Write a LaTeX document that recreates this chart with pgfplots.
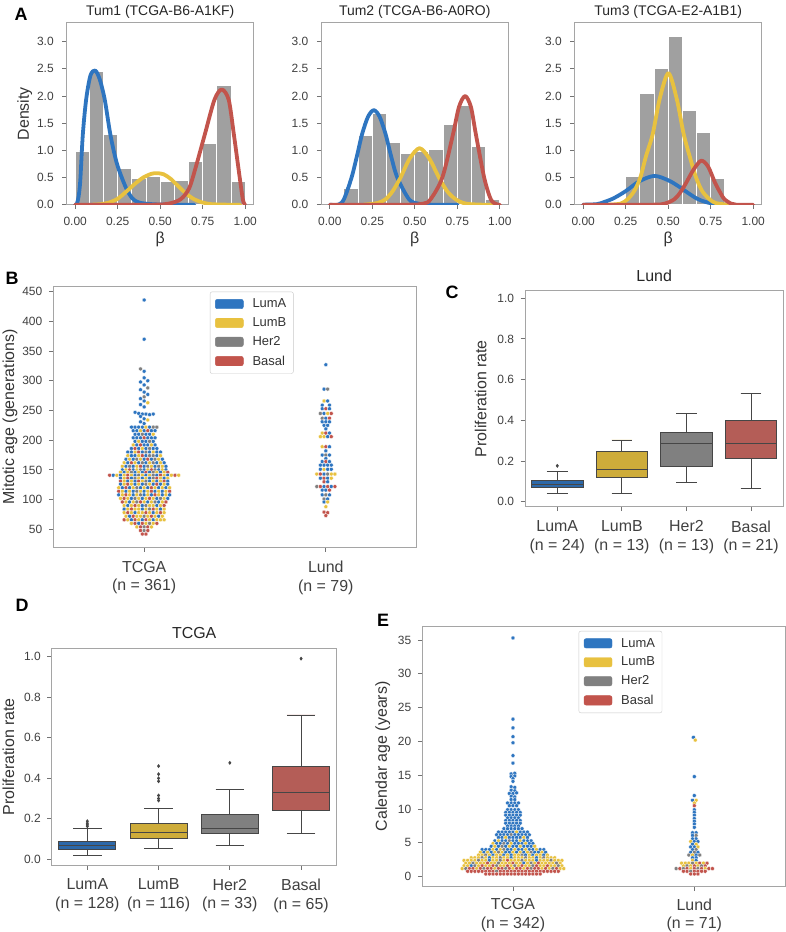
\documentclass[border=0pt]{standalone}
\usepackage{fontspec}
\setmainfont{Liberation Sans}
\usepackage{pgfplots}
\pgfplotsset{compat=1.18}
\usepgfplotslibrary{statistics}
\definecolor{cA}{RGB}{46,117,192}
\definecolor{cB}{RGB}{232,193,63}
\definecolor{cH}{RGB}{128,128,128}
\definecolor{cR}{RGB}{194,84,76}
\definecolor{bA}{RGB}{45,104,168}
\definecolor{bB}{RGB}{206,172,58}
\definecolor{bH}{RGB}{128,128,128}
\definecolor{bR}{RGB}{180,93,87}
\definecolor{histgray}{RGB}{160,160,160}
\definecolor{frame}{RGB}{165,165,165}
\definecolor{boxline}{RGB}{70,70,70}
\pgfplotsset{
  base/.style={
    scale only axis, anchor=south west,
    axis line style={draw=frame, line width=0.8bp},
    tick pos=left, tick align=outside, major tick length=4.5bp,
    tick style={draw=frame!70!black, line width=0.8bp},
    tick label style={font=\fontsize{12}{13}\selectfont, text=black!75},
    yticklabel style={xshift=-3bp},
    label style={font=\fontsize{16}{18}\selectfont, text=black!80},
    title style={font=\fontsize{16}{18}\selectfont, text=black!85},
    /pgf/number format/assume math mode=true,
  },
  cat/.style={xticklabel style={align=center, font=\fontsize{16}{18.5}\selectfont, yshift=#1}},
  cat/.default=-6bp,
  Ahist/.style={base, width=187bp, height=182bp, xmin=-0.05, xmax=1.05, ymin=0, ymax=3.35,
    xtick={0,0.25,0.5,0.75,1}, xticklabels={0.00,0.25,0.50,0.75,1.00},
    ytick={0,0.5,1,1.5,2,2.5,3}, yticklabels={0.0,0.5,1.0,1.5,2.0,2.5,3.0},
    xticklabel style={yshift=-4bp}, yticklabel style={xshift=-2bp},
    xlabel={β}, ylabel shift=-2bp,
    title style={font=\fontsize{14}{16}\selectfont, anchor=base, yshift=1.5bp}},
  curve/.style={line width=3.8bp, smooth, line cap=round, line join=round},
  swarm/.style={scatter, only marks, scatter src=explicit symbolic, mark size=2bp,
    scatter/classes={a={mark=*, fill=cA, draw=white}, b={mark=*, fill=cB, draw=white},
      h={mark=*, fill=cH, draw=white}, r={mark=*, fill=cR, draw=white}},
    mark options={line width=0.3bp}},
  bx/.style={fill=#1, draw=boxline, line width=0.9bp, mark=diamond*, mark size=1.3bp,
    mark options={fill=boxline, draw=boxline}},
  legpatch/.style={legend image code/.code={\fill[#1] (0bp,-4.7bp) rectangle (28bp,4.7bp); \path (35bp,0bp);}},
  swarmlegend/.style={legend style={draw=frame!60, rounded corners=2bp, fill=white,
    font=\fontsize{13}{15}\selectfont, text=black!80, row sep=4.5bp, inner xsep=5bp, inner ysep=5bp,
    at={(0.431,0.981)}, anchor=north west}, legend cell align=left},
}
\begin{document}
\begin{tikzpicture}
\path[use as bounding box] (0,0) rectangle (786bp,932bp);
% ---------- A1
\begin{axis}[Ahist, at={(66.7bp,727.3bp)}, ylabel={Density}, title={Tum1 (TCGA-B6-A1KF)}]
\addplot[ybar interval, fill=histgray, draw=white, line width=1bp] coordinates {(0,0.97) (0.0833,2.45) (0.1667,1.29) (0.25,0.66) (0.3333,0.49) (0.4167,0.52) (0.5,0.42) (0.5833,0.44) (0.6667,0.80) (0.75,1.12) (0.8333,2.20) (0.9167,0.42) (1,0.42)};
\addplot[curve, cA] coordinates {(0,0) (0.01,0.02) (0.02,0.15) (0.03,0.45) (0.045,1.3) (0.065,1.95) (0.09,2.38) (0.118,2.47) (0.145,2.3) (0.174,1.93) (0.207,1.29) (0.245,0.76) (0.296,0.33) (0.335,0.12) (0.375,0.04) (0.45,0.01) (0.55,0) (0.7,0)};
\addplot[curve, cB] coordinates {(0.1,0) (0.15,0.01) (0.2,0.04) (0.25,0.11) (0.3,0.24) (0.35,0.38) (0.4,0.5) (0.45,0.57) (0.483,0.58) (0.52,0.56) (0.56,0.48) (0.6,0.36) (0.65,0.21) (0.7,0.1) (0.75,0.04) (0.8,0.01) (0.9,0) (0.97,0)};
\addplot[curve, cR] coordinates {(0,0) (0.45,0) (0.55,0.02) (0.62,0.1) (0.67,0.3) (0.71,0.7) (0.763,1.3) (0.819,1.93) (0.862,2.12) (0.903,1.93) (0.933,1.3) (0.959,0.7) (0.986,0.1) (1.0,0)};
\end{axis}
% ---------- A2
\begin{axis}[Ahist, at={(321.3bp,727.3bp)}, title={Tum2 (TCGA-B6-A0RO)}]
\addplot[ybar interval, fill=histgray, draw=white, line width=1bp] coordinates {(0.0833,0.29) (0.1667,1.28) (0.25,1.67) (0.3333,1.14) (0.4167,0.94) (0.5,0.97) (0.5833,1.02) (0.6667,1.47) (0.75,1.82) (0.8333,1.07) (0.9167,0.10) (1,0.10)};
\addplot[curve, cA] coordinates {(0,0) (0.05,0) (0.083,0.1) (0.128,0.5) (0.16,0.9) (0.19,1.3) (0.225,1.62) (0.259,1.74) (0.293,1.62) (0.328,1.3) (0.36,0.9) (0.397,0.5) (0.466,0.1) (0.52,0.02) (0.6,0) (0.75,0)};
\addplot[curve, cB] coordinates {(0.2,0) (0.28,0.03) (0.328,0.1) (0.37,0.25) (0.416,0.5) (0.47,0.85) (0.528,1.04) (0.585,0.85) (0.642,0.5) (0.69,0.25) (0.74,0.1) (0.8,0.02) (0.9,0) (0.97,0)};
\addplot[curve, cR] coordinates {(0,0) (0.45,0) (0.55,0.02) (0.593,0.1) (0.662,0.5) (0.725,1.3) (0.76,1.8) (0.796,2.0) (0.83,1.8) (0.859,1.3) (0.908,0.5) (0.947,0.1) (0.98,0.01) (1,0)};
\end{axis}
% ---------- A3
\begin{axis}[Ahist, at={(574.7bp,727.3bp)}, title={Tum3 (TCGA-E2-A1B1)}]
\addplot[ybar interval, fill=histgray, draw=white, line width=1bp] coordinates {(0.25,0.51) (0.3333,2.05) (0.4167,2.51) (0.5,3.09) (0.5833,1.74) (0.6667,1.33) (0.75,0.49) (0.8333,0.49)};
\addplot[curve, cA] coordinates {(0,0) (0.08,0.01) (0.124,0.05) (0.18,0.12) (0.25,0.25) (0.33,0.43) (0.418,0.53) (0.5,0.45) (0.56,0.34) (0.615,0.22) (0.67,0.11) (0.72,0.05) (0.78,0.01) (0.85,0)};
\addplot[curve, cB] coordinates {(0.15,0) (0.22,0.02) (0.261,0.1) (0.3,0.25) (0.336,0.5) (0.37,0.9) (0.409,1.3) (0.45,1.95) (0.501,2.42) (0.55,1.95) (0.591,1.3) (0.63,0.85) (0.664,0.5) (0.7,0.25) (0.743,0.1) (0.78,0.03) (0.85,0)};
\addplot[curve, cR] coordinates {(0,0) (0.4,0) (0.48,0.02) (0.536,0.1) (0.57,0.22) (0.605,0.4) (0.65,0.65) (0.694,0.81) (0.735,0.7) (0.776,0.4) (0.81,0.2) (0.831,0.1) (0.87,0.02) (0.9,0) (1,0)};
\end{axis}
% ---------- B
\begin{axis}[base, cat, swarmlegend, at={(53.3bp,384.7bp)}, width=363.4bp, height=260.6bp,
  xmin=-0.5, xmax=1.5, ymin=19.7, ymax=458.4, xtick={0,1},
  xticklabels={{TCGA\\(n = 361)},{Lund\\(n = 79)}},
  ytick={50,100,...,450}, ylabel={Mitotic age (generations)}, ylabel shift=-2bp]
\addlegendimage{legpatch=cA}\addlegendentry{LumA}
\addlegendimage{legpatch=cB}\addlegendentry{LumB}
\addlegendimage{legpatch=cH}\addlegendentry{Her2}
\addlegendimage{legpatch=cR}\addlegendentry{Basal}
\addplot[swarm] table[row sep=\\, x expr=\thisrow{k}*0.02, y=y, meta=c] {k y c\\
0 436 a\\ 0 370 a\\ -1 320 h\\ 0 316 a\\ 0 305 a\\ 1 300 a\\ -1 298 a\\ 0 293 a\\ 1 288 h\\ -1 285 a\\ 0 281 a\\ 1 277 a\\ 0 273 h\\ -1 270 a\\ 0 266 a\\ 1 263 b\\ -1 260 a\\ 0 256 a\\ -2.5 247 a\\ -1.5 245 a\\ -0.5 244 a\\ 0.5 244 a\\ 1.5 243 a\\ 2.5 244 a\\ -1 240 a\\ 0 236 a\\ 1 234 b\\ -1 231 a\\ 0 228 a\\
-3.5 222 a\\ -2.5 222 a\\ -1.5 222 a\\ -0.5 222 a\\ 0.5 222 b\\ 1.5 222 a\\ 2.5 222 h\\ 3.5 222 h\\
-3 216 a\\ -2 216 a\\ -1 216 b\\ 0 216 a\\ 1 216 r\\ 2 216 a\\ 3 216 a\\
-2.5 210 a\\ -1.5 210 a\\ -0.5 210 h\\ 0.5 210 a\\ 1.5 210 a\\ 2.5 210 b\\
-3 204 a\\ -2 204 a\\ -1 204 a\\ 0 204 r\\ 1 204 a\\ 2 204 a\\ 3 204 a\\
-2.5 198 a\\ -1.5 198 b\\ -0.5 198 a\\ 0.5 198 a\\ 1.5 198 h\\ 2.5 198 a\\
-3 192 b\\ -2 192 a\\ -1 192 r\\ 0 192 a\\ 1 192 a\\ 2 192 b\\ 3 192 a\\
-3.5 186 a\\ -2.5 186 r\\ -1.5 186 a\\ -0.5 186 b\\ 0.5 186 a\\ 1.5 186 h\\ 2.5 186 a\\ 3.5 186 a\\
-4.5 180 a\\ -3.5 180 a\\ -2.5 180 b\\ -1.5 180 r\\ -0.5 180 a\\ 0.5 180 h\\ 1.5 180 a\\ 2.5 180 b\\ 3.5 180 a\\ 4.5 180 a\\
-4.5 174 b\\ -3.5 174 a\\ -2.5 174 a\\ -1.5 174 b\\ -0.5 174 r\\ 0.5 174 a\\ 1.5 174 h\\ 2.5 174 h\\ 3.5 174 a\\ 4.5 174 b\\
-5 168 a\\ -4 168 b\\ -3 168 a\\ -2 168 h\\ -1 168 b\\ 0 168 a\\ 1 168 r\\ 2 168 a\\ 3 168 h\\ 4 168 b\\ 5 168 a\\
-5.5 162 b\\ -4.5 162 a\\ -3.5 162 r\\ -2.5 162 b\\ -1.5 162 a\\ -0.5 162 h\\ 0.5 162 a\\ 1.5 162 b\\ 2.5 162 h\\ 3.5 162 a\\ 4.5 162 b\\ 5.5 162 a\\
-6 156 b\\ -5 156 a\\ -4 156 h\\ -3 156 a\\ -2 156 b\\ -1 156 r\\ 0 156 a\\ 1 156 h\\ 2 156 b\\ 3 156 a\\ 4 156 h\\ 5 156 b\\ 6 156 a\\
-6 150 a\\ -5 150 b\\ -4 150 r\\ -3 150 a\\ -2 150 b\\ -1 150 h\\ 0 150 a\\ 1 150 b\\ 2 150 r\\ 3 150 h\\ 4 150 a\\ 5 150 b\\ 6 150 a\\
-6.5 146 b\\ -5.5 146 a\\ -4.5 146 b\\ -3.5 146 h\\ -2.5 146 a\\ -1.5 146 b\\ -0.5 146 a\\ 0.5 146 r\\ 1.5 146 a\\ 2.5 146 h\\ 3.5 146 b\\ 4.5 146 a\\ 5.5 146 b\\ 6.5 146 r\\
-9.5 141 r\\ -8.5 141 a\\ -7.5 141 b\\ -6.5 141 a\\ -5.5 141 b\\ -4.5 141 r\\ -3.5 141 b\\ -2.5 141 a\\ -1.5 141 h\\ -0.5 141 b\\ 0.5 141 a\\ 1.5 141 b\\ 2.5 141 h\\ 3.5 141 a\\ 4.5 141 r\\ 5.5 141 b\\ 6.5 141 a\\ 7.5 141 b\\ 8.5 141 r\\ 9.5 141 b\\
-6.5 136 a\\ -5.5 136 b\\ -4.5 136 r\\ -3.5 136 a\\ -2.5 136 h\\ -1.5 136 b\\ -0.5 136 a\\ 0.5 136 b\\ 1.5 136 a\\ 2.5 136 h\\ 3.5 136 r\\ 4.5 136 b\\ 5.5 136 a\\ 6.5 136 b\\
-6.5 131 r\\ -5.5 131 b\\ -4.5 131 a\\ -3.5 131 b\\ -2.5 131 a\\ -1.5 131 r\\ -0.5 131 b\\ 0.5 131 h\\ 1.5 131 a\\ 2.5 131 b\\ 3.5 131 a\\ 4.5 131 b\\ 5.5 131 r\\ 6.5 131 a\\
-6.5 126 a\\ -5.5 126 b\\ -4.5 126 r\\ -3.5 126 b\\ -2.5 126 a\\ -1.5 126 b\\ -0.5 126 a\\ 0.5 126 h\\ 1.5 126 b\\ 2.5 126 a\\ 3.5 126 r\\ 4.5 126 a\\ 5.5 126 b\\ 6.5 126 a\\
-7 120 b\\ -6 120 a\\ -5 120 r\\ -4 120 a\\ -3 120 b\\ -2 120 h\\ -1 120 a\\ 0 120 b\\ 1 120 a\\ 2 120 r\\ 3 120 b\\ 4 120 a\\ 5 120 b\\ 6 120 a\\ 7 120 b\\
-7 114 r\\ -6 114 b\\ -5 114 a\\ -4 114 b\\ -3 114 a\\ -2 114 h\\ -1 114 b\\ 0 114 a\\ 1 114 b\\ 2 114 r\\ 3 114 a\\ 4 114 b\\ 5 114 a\\ 6 114 b\\ 7 114 r\\
-7 108 a\\ -6 108 b\\ -5 108 r\\ -4 108 b\\ -3 108 a\\ -2 108 b\\ -1 108 h\\ 0 108 a\\ 1 108 b\\ 2 108 a\\ 3 108 r\\ 4 108 b\\ 5 108 a\\ 6 108 b\\ 7 108 a\\
-6.5 102 b\\ -5.5 102 r\\ -4.5 102 b\\ -3.5 102 a\\ -2.5 102 h\\ -1.5 102 b\\ -0.5 102 a\\ 0.5 102 b\\ 1.5 102 r\\ 2.5 102 b\\ 3.5 102 a\\ 4.5 102 h\\ 5.5 102 b\\ 6.5 102 a\\
-6 96 r\\ -5 96 b\\ -4 96 a\\ -3 96 b\\ -2 96 h\\ -1 96 r\\ 0 96 b\\ 1 96 a\\ 2 96 b\\ 3 96 h\\ 4 96 a\\ 5 96 b\\ 6 96 r\\
-5.5 90 b\\ -4.5 90 a\\ -3.5 90 b\\ -2.5 90 r\\ -1.5 90 b\\ -0.5 90 a\\ 0.5 90 h\\ 1.5 90 b\\ 2.5 90 b\\ 3.5 90 a\\ 4.5 90 b\\ 5.5 90 r\\
-5.5 84 a\\ -4.5 84 b\\ -3.5 84 r\\ -2.5 84 b\\ -1.5 84 b\\ -0.5 84 a\\ 0.5 84 b\\ 1.5 84 h\\ 2.5 84 r\\ 3.5 84 b\\ 4.5 84 a\\ 5.5 84 b\\
-5.5 78 b\\ -4.5 78 r\\ -3.5 78 b\\ -2.5 78 a\\ -1.5 78 b\\ -0.5 78 b\\ 0.5 78 r\\ 1.5 78 b\\ 2.5 78 a\\ 3.5 78 b\\ 4.5 78 r\\ 5.5 78 b\\
-5 72 b\\ -4 72 a\\ -3 72 r\\ -2 72 b\\ -1 72 b\\ 0 72 h\\ 1 72 b\\ 2 72 r\\ 3 72 b\\ 4 72 a\\ 5 72 b\\
-5.5 66 r\\ -4.5 66 b\\ -3.5 66 a\\ -2.5 66 r\\ -1.5 66 b\\ -0.5 66 a\\ 0.5 66 r\\ 1.5 66 b\\ 2.5 66 a\\ 3.5 66 b\\ 4.5 66 b\\ 5.5 66 b\\
-3.5 60 b\\ -2.5 60 r\\ -1.5 60 a\\ -0.5 60 r\\ 0.5 60 b\\ 1.5 60 h\\ 2.5 60 b\\ 3.5 60 r\\
-2 54 b\\ -1 54 r\\ 0 54 h\\ 1 54 r\\ 2 54 b\\ -1 48 r\\ 0 48 h\\ 1 48 r\\ -0.5 42 r\\ 0.5 42 r\\
};
\addplot[swarm] table[row sep=\\, x expr=\thisrow{k}*0.02+1, y=y, meta=c] {k y c\\
0 327 a\\ -0.5 286 a\\ 0.5 286 h\\ -0.5 266 b\\ 0.5 266 a\\ -1 259 a\\ 1 259 a\\ -1 253 a\\ 0 253 r\\ 1 253 a\\
-1.5 245 h\\ -0.5 245 a\\ 0.5 245 b\\ 1.5 245 r\\ -1 237 h\\ 0 237 a\\ 1 237 r\\ -1 231 a\\ 0 231 a\\ 1 231 a\\
-0.5 225 a\\ 0.5 225 a\\ 0 219 a\\ -1 212 b\\ 0 212 r\\ 1 212 a\\ -1.5 206 b\\ -0.5 206 b\\ 0.5 206 a\\ 1.5 206 r\\
-1 189 b\\ 0 189 r\\ 1 189 a\\ 0 182 a\\ -1 175 a\\ 0 175 h\\ 1 175 a\\ 0 169 a\\ -1 164 a\\ 0 164 r\\ 1 164 a\\
-1.5 158 a\\ -0.5 158 a\\ 0.5 158 a\\ 1.5 158 a\\ -1.5 151 a\\ -0.5 151 b\\ 0.5 151 a\\ 1.5 151 a\\
-2.5 143 b\\ -1.5 143 r\\ -0.5 143 a\\ 0.5 143 h\\ 1.5 143 b\\ 2.5 143 b\\ -1.5 136 a\\ -0.5 136 r\\ 0.5 136 a\\ 1.5 136 b\\
-0.5 130 r\\ 0.5 130 a\\ -2.5 122 h\\ -1.5 122 r\\ -0.5 122 a\\ 0.5 122 r\\ 1.5 122 a\\ 2.5 122 r\\
-1 116 a\\ 0 116 a\\ 1 116 r\\ -1 108 a\\ 0 108 h\\ 1 108 a\\ -0.5 101 h\\ 0.5 101 a\\ -0.5 96 a\\ 0.5 96 b\\
0 88 b\\ -0.5 79 r\\ 0.5 78 r\\ 0 73 r\\
};
\end{axis}
% ---------- C
\begin{axis}[base, cat, at={(525bp,425.3bp)}, width=258.3bp, height=216bp,
  xmin=-0.5, xmax=3.5, ymin=-0.025, ymax=1.037, xtick={0,1,2,3},
  xticklabels={{LumA\\(n = 24)},{LumB\\(n = 13)},{Her2\\(n = 13)},{Basal\\(n = 21)}},
  ytick={0,0.2,0.4,0.6,0.8,1}, yticklabels={0.0,0.2,0.4,0.6,0.8,1.0},
  ylabel={Proliferation rate}, ylabel shift=4bp, title={Lund}, boxplot/draw direction=y]
\addplot[bx=bA, boxplot prepared={draw position=0, lower whisker=0.038, lower quartile=0.07, median=0.085, upper quartile=0.102, upper whisker=0.148, box extend=0.8, whisker extend=0.32}] table[row sep=\\, y index=0] {d\\0.176\\};
\addplot[bx=bB, boxplot prepared={draw position=1, lower whisker=0.038, lower quartile=0.121, median=0.156, upper quartile=0.246, upper whisker=0.303, box extend=0.8, whisker extend=0.32}] coordinates {};
\addplot[bx=bH, boxplot prepared={draw position=2, lower whisker=0.095, lower quartile=0.172, median=0.285, upper quartile=0.341, upper whisker=0.435, box extend=0.8, whisker extend=0.32}] coordinates {};
\addplot[bx=bR, boxplot prepared={draw position=3, lower whisker=0.065, lower quartile=0.21, median=0.285, upper quartile=0.397, upper whisker=0.53, box extend=0.8, whisker extend=0.32}] coordinates {};
\end{axis}
% ---------- D
\begin{axis}[base, cat, at={(51.7bp,67bp)}, width=285bp, height=216.7bp,
  xmin=-0.5, xmax=3.5, ymin=-0.028, ymax=1.041, xtick={0,1,2,3},
  xticklabels={{LumA\\(n = 128)},{LumB\\(n = 116)},{Her2\\(n = 33)},{Basal\\(n = 65)}},
  ytick={0,0.2,0.4,0.6,0.8,1}, yticklabels={0.0,0.2,0.4,0.6,0.8,1.0},
  ylabel={Proliferation rate}, ylabel shift=3bp, title={TCGA}, boxplot/draw direction=y]
\addplot[bx=bA, boxplot prepared={draw position=0, lower whisker=0.018, lower quartile=0.049, median=0.069, upper quartile=0.090, upper whisker=0.151, box extend=0.8, whisker extend=0.4}] table[row sep=\\, y index=0] {d\\0.163\\0.17\\0.178\\0.188\\};
\addplot[bx=bB, boxplot prepared={draw position=1, lower whisker=0.054, lower quartile=0.105, median=0.135, upper quartile=0.179, upper whisker=0.252, box extend=0.8, whisker extend=0.4}] table[row sep=\\, y index=0] {d\\0.29\\0.30\\0.315\\0.385\\0.40\\0.42\\0.46\\};
\addplot[bx=bH, boxplot prepared={draw position=2, lower whisker=0.069, lower quartile=0.130, median=0.151, upper quartile=0.222, upper whisker=0.345, box extend=0.8, whisker extend=0.4}] table[row sep=\\, y index=0] {d\\0.476\\};
\addplot[bx=bR, boxplot prepared={draw position=3, lower whisker=0.128, lower quartile=0.243, median=0.33, upper quartile=0.46, upper whisker=0.712, box extend=0.8, whisker extend=0.4}] table[row sep=\\, y index=0] {d\\0.99\\};
\end{axis}
% ---------- E
\begin{axis}[base, cat=-4bp, swarmlegend, at={(422.3bp,45.3bp)}, width=362.7bp, height=260.7bp,
  xmin=-0.5, xmax=1.5, ymin=-1.48, ymax=37.07, xtick={0,1},
  xticklabels={{TCGA\\(n = 342)},{Lund\\(n = 71)}},
  ytick={0,5,...,35}, ylabel={Calendar age (years)}, ylabel shift=1bp]
\addlegendimage{legpatch=cA}\addlegendentry{LumA}
\addlegendimage{legpatch=cB}\addlegendentry{LumB}
\addlegendimage{legpatch=cH}\addlegendentry{Her2}
\addlegendimage{legpatch=cR}\addlegendentry{Basal}
\addplot[swarm] table[row sep=\\, x expr=\thisrow{k}*0.02, y=y, meta=c] {k y c\\
0 35.3 a\\ 0 23.3 a\\ 0 22.0 a\\ 0 20.7 a\\ 0 19.8 a\\ 0 17.9 a\\ 0 16.8 a\\ -0.5 15.2 a\\ 0.5 15.3 a\\ -0.5 14.8 a\\ 0.5 14.9 a\\ 0 14.5 a\\ 0 14.1 a\\
-0.5 13.3 a\\ 0.5 13.2 a\\ -0.5 12.8 a\\ 0.5 12.7 a\\ -1 12.3 a\\ 0 12.3 a\\ 1 12.4 a\\ -0.5 11.9 a\\ 0.5 11.8 a\\ -0.5 11.4 a\\ 0.5 11.4 a\\
-1.5 10.9 a\\ -0.5 10.9 a\\ 0.5 10.9 a\\ 1.5 10.9 a\\ -1 10.5 a\\ 0 10.5 a\\ 1 10.5 a\\
-1.5 9.9 a\\ -0.5 9.9 a\\ 0.5 9.9 a\\ 1.5 9.9 a\\ -2 9.5 a\\ -1 9.5 a\\ 0 9.5 a\\ 1 9.5 a\\ 2 9.5 a\\
-2 9.1 a\\ -1 9.1 a\\ 0 9.1 a\\ 1 9.1 a\\ 2 9.1 a\\ -1.5 8.7 a\\ -0.5 8.7 a\\ 0.5 8.7 a\\ 1.5 8.7 a\\
-2 8.3 a\\ -1 8.3 a\\ 0 8.3 a\\ 1 8.3 a\\ 2 8.3 a\\ -2 7.9 a\\ -1 7.9 a\\ 0 7.9 a\\ 1 7.9 a\\ 2 7.9 a\\
-1.5 7.5 a\\ -0.5 7.5 a\\ 0.5 7.5 a\\ 1.5 7.5 a\\ -2.5 7.1 a\\ -1.5 7.1 a\\ -0.5 7.1 a\\ 0.5 7.1 a\\ 1.5 7.1 a\\ 2.5 7.1 a\\
-4 6.6 a\\ -3 6.6 a\\ -2 6.6 a\\ -1 6.6 a\\ 0 6.6 a\\ 1 6.6 b\\ 2 6.6 a\\ 3 6.6 a\\ 4 6.6 a\\
-4.5 6.2 a\\ -3.5 6.2 a\\ -2.5 6.2 a\\ -1.5 6.2 a\\ -0.5 6.2 h\\ 0.5 6.2 a\\ 1.5 6.2 a\\ 2.5 6.2 a\\ 3.5 6.2 a\\ 4.5 6.2 a\\
-4 5.8 a\\ -3 5.8 a\\ -2 5.8 b\\ -1 5.8 a\\ 0 5.8 a\\ 1 5.8 a\\ 2 5.8 a\\ 3 5.8 b\\ 4 5.8 a\\
-5 5.3 a\\ -4 5.3 b\\ -3 5.3 a\\ -2 5.3 a\\ -1 5.3 h\\ 0 5.3 a\\ 1 5.3 a\\ 2 5.3 b\\ 3 5.3 a\\ 4 5.3 a\\ 5 5.3 a\\
-5.5 4.9 b\\ -4.5 4.9 a\\ -3.5 4.9 a\\ -2.5 4.9 h\\ -1.5 4.9 a\\ -0.5 4.9 b\\ 0.5 4.9 a\\ 1.5 4.9 a\\ 2.5 4.9 a\\ 3.5 4.9 b\\ 4.5 4.9 a\\ 5.5 4.9 a\\
-6 4.5 a\\ -5 4.5 b\\ -4 4.5 a\\ -3 4.5 h\\ -2 4.5 a\\ -1 4.5 b\\ 0 4.5 a\\ 1 4.5 a\\ 2 4.5 b\\ 3 4.5 a\\ 4 4.5 a\\ 5 4.5 a\\ 6 4.5 b\\
-8.5 4.0 a\\ -7.5 4.0 a\\ -6.5 4.0 a\\ -5.5 4.0 b\\ -4.5 4.0 a\\ -3.5 4.0 b\\ -2.5 4.0 h\\ -1.5 4.0 a\\ -0.5 4.0 a\\ 0.5 4.0 b\\ 1.5 4.0 a\\ 2.5 4.0 a\\ 3.5 4.0 b\\ 4.5 4.0 a\\ 5.5 4.0 a\\ 6.5 4.0 b\\ 7.5 4.0 a\\ 8.5 4.0 a\\
-9 3.6 b\\ -8 3.6 a\\ -7 3.6 b\\ -6 3.6 a\\ -5 3.6 b\\ -4 3.6 h\\ -3 3.6 b\\ -2 3.6 a\\ -1 3.6 a\\ 0 3.6 b\\ 1 3.6 a\\ 2 3.6 b\\ 3 3.6 a\\ 4 3.6 b\\ 5 3.6 h\\ 6 3.6 a\\ 7 3.6 a\\ 8 3.6 b\\ 9 3.6 a\\
-9.5 3.2 b\\ -8.5 3.2 b\\ -7.5 3.2 h\\ -6.5 3.2 b\\ -5.5 3.2 a\\ -4.5 3.2 b\\ -3.5 3.2 b\\ -2.5 3.2 a\\ -1.5 3.2 b\\ -0.5 3.2 a\\ 0.5 3.2 b\\ 1.5 3.2 b\\ 2.5 3.2 h\\ 3.5 3.2 a\\ 4.5 3.2 b\\ 5.5 3.2 a\\ 6.5 3.2 b\\ 7.5 3.2 b\\ 8.5 3.2 a\\ 9.5 3.2 b\\
-11.5 2.8 b\\ -10.5 2.8 b\\ -9.5 2.8 b\\ -8.5 2.8 h\\ -7.5 2.8 b\\ -6.5 2.8 a\\ -5.5 2.8 b\\ -4.5 2.8 b\\ -3.5 2.8 h\\ -2.5 2.8 b\\ -1.5 2.8 b\\ -0.5 2.8 a\\ 0.5 2.8 b\\ 1.5 2.8 b\\ 2.5 2.8 b\\ 3.5 2.8 h\\ 4.5 2.8 b\\ 5.5 2.8 b\\ 6.5 2.8 a\\ 7.5 2.8 b\\ 8.5 2.8 h\\ 9.5 2.8 b\\ 10.5 2.8 b\\ 11.5 2.8 b\\
-13.5 2.4 b\\ -12.5 2.4 b\\ -11.5 2.4 b\\ -10.5 2.4 b\\ -9.5 2.4 h\\ -8.5 2.4 b\\ -7.5 2.4 b\\ -6.5 2.4 a\\ -5.5 2.4 b\\ -4.5 2.4 b\\ -3.5 2.4 h\\ -2.5 2.4 b\\ -1.5 2.4 r\\ -0.5 2.4 b\\ 0.5 2.4 b\\ 1.5 2.4 b\\ 2.5 2.4 h\\ 3.5 2.4 b\\ 4.5 2.4 b\\ 5.5 2.4 b\\ 6.5 2.4 a\\ 7.5 2.4 b\\ 8.5 2.4 b\\ 9.5 2.4 b\\ 10.5 2.4 h\\ 11.5 2.4 b\\ 12.5 2.4 b\\ 13.5 2.4 b\\
-13 2.0 b\\ -12 2.0 b\\ -11 2.0 h\\ -10 2.0 b\\ -9 2.0 b\\ -8 2.0 b\\ -7 2.0 r\\ -6 2.0 b\\ -5 2.0 b\\ -4 2.0 h\\ -3 2.0 b\\ -2 2.0 b\\ -1 2.0 b\\ 0 2.0 r\\ 1 2.0 b\\ 2 2.0 b\\ 3 2.0 a\\ 4 2.0 b\\ 5 2.0 h\\ 6 2.0 b\\ 7 2.0 r\\ 8 2.0 b\\ 9 2.0 b\\ 10 2.0 b\\ 11 2.0 b\\ 12 2.0 h\\ 13 2.0 b\\
-13.5 1.6 b\\ -12.5 1.6 b\\ -11.5 1.6 a\\ -10.5 1.6 h\\ -9.5 1.6 b\\ -8.5 1.6 r\\ -7.5 1.6 b\\ -6.5 1.6 b\\ -5.5 1.6 r\\ -4.5 1.6 h\\ -3.5 1.6 b\\ -2.5 1.6 b\\ -1.5 1.6 r\\ -0.5 1.6 b\\ 0.5 1.6 h\\ 1.5 1.6 b\\ 2.5 1.6 r\\ 3.5 1.6 b\\ 4.5 1.6 b\\ 5.5 1.6 h\\ 6.5 1.6 r\\ 7.5 1.6 b\\ 8.5 1.6 b\\ 9.5 1.6 r\\ 10.5 1.6 b\\ 11.5 1.6 b\\ 12.5 1.6 h\\ 13.5 1.6 b\\
-14 1.2 b\\ -13 1.2 h\\ -12 1.2 r\\ -11 1.2 r\\ -10 1.2 b\\ -9 1.2 r\\ -8 1.2 h\\ -7 1.2 r\\ -6 1.2 r\\ -5 1.2 b\\ -4 1.2 r\\ -3 1.2 r\\ -2 1.2 h\\ -1 1.2 r\\ 0 1.2 b\\ 1 1.2 r\\ 2 1.2 r\\ 3 1.2 b\\ 4 1.2 r\\ 5 1.2 h\\ 6 1.2 r\\ 7 1.2 r\\ 8 1.2 b\\ 9 1.2 r\\ 10 1.2 b\\ 11 1.2 h\\ 12 1.2 r\\ 13 1.2 b\\ 14 1.2 b\\
-12.5 0.8 r\\ -11.5 0.8 r\\ -10.5 0.8 r\\ -9.5 0.8 r\\ -8.5 0.8 r\\ -7.5 0.8 r\\ -6.5 0.8 r\\ -5.5 0.8 r\\ -4.5 0.8 h\\ -3.5 0.8 r\\ -2.5 0.8 r\\ -1.5 0.8 r\\ -0.5 0.8 r\\ 0.5 0.8 r\\ 1.5 0.8 r\\ 2.5 0.8 r\\ 3.5 0.8 r\\ 4.5 0.8 r\\ 5.5 0.8 r\\ 6.5 0.8 r\\ 7.5 0.8 r\\ 8.5 0.8 r\\ 9.5 0.8 r\\ 10.5 0.8 r\\ 11.5 0.8 r\\ 12.5 0.8 r\\
-7.5 0.4 r\\ -6.5 0.4 r\\ -5.5 0.4 r\\ -4.5 0.4 r\\ -3.5 0.4 r\\ -2.5 0.4 r\\ -1.5 0.4 r\\ -0.5 0.4 r\\ 0.5 0.4 r\\ 1.5 0.4 r\\ 2.5 0.4 r\\ 3.5 0.4 r\\ 4.5 0.4 r\\ 5.5 0.4 r\\ 6.5 0.4 r\\ 7.5 0.4 r\\
};
\addplot[swarm] table[row sep=\\, x expr=\thisrow{k}*0.02+1, y=y, meta=c] {k y c\\
-0.25 20.6 a\\ 0.25 20.2 b\\ 0 14.8 a\\ 0 12.0 a\\ -0.5 11.3 a\\ 0.5 11.3 b\\ 0 10.9 b\\ 0 10.5 r\\ 0 9.9 a\\ 0 9.5 a\\ 0 9.1 a\\ 0 8.6 a\\ 0 8.2 a\\ 0 7.8 a\\ 0 7.3 a\\
-0.5 6.5 a\\ 0.5 6.5 a\\ -0.5 6.1 a\\ 0.5 6.1 h\\ -0.5 5.6 a\\ 0.5 5.6 a\\ -1 5.2 b\\ 0 5.2 a\\ 1 5.2 a\\ -0.5 4.8 a\\ 0.5 4.8 b\\
-1 4.4 a\\ 0 4.4 a\\ 1 4.4 b\\ -0.5 4.0 a\\ 0.5 4.0 h\\ -1 3.6 a\\ 0 3.6 h\\ 1 3.6 a\\ -1.5 3.2 h\\ -0.5 3.2 b\\ 0.5 3.2 a\\ 1.5 3.2 h\\
-0.5 2.8 a\\ 0.5 2.8 a\\ -0.5 2.4 b\\ 0.5 2.4 a\\
-3.5 2.0 b\\ -2.5 2.0 b\\ -1.5 2.0 b\\ -0.5 2.0 h\\ 0.5 2.0 b\\ 1.5 2.0 r\\ 2.5 2.0 b\\ 3.5 2.0 r\\
-3 1.6 b\\ -2 1.6 h\\ -1 1.6 b\\ 0 1.6 r\\ 1 1.6 b\\ 2 1.6 h\\ 3 1.6 r\\
-5 1.2 h\\ -4 1.2 r\\ -3 1.2 h\\ -2 1.2 r\\ -1 1.2 b\\ 0 1.2 r\\ 1 1.2 h\\ 2 1.2 r\\ 3 1.2 b\\ 4 1.2 r\\ 5 1.2 r\\
-3 0.8 r\\ -2 0.8 r\\ -1 0.8 h\\ 0 0.8 r\\ 1 0.8 r\\ 2 0.8 r\\ 3 0.8 r\\ -1 0.4 r\\ 0 0.4 r\\ 1 0.4 r\\
};
\end{axis}
% ---------- panel letters
\begin{scope}[every node/.style={font=\bfseries\fontsize{18}{20}\selectfont}]
\node at (21bp,918bp) {A};
\node at (12bp,654bp) {B};
\node at (452bp,640bp) {C};
\node at (22bp,327bp) {D};
\node at (383bp,312bp) {E};
\end{scope}
\end{tikzpicture}
\end{document}
